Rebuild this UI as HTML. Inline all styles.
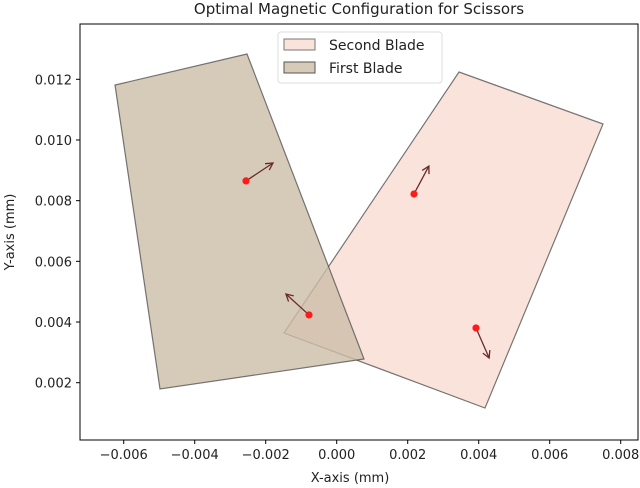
<!DOCTYPE html>
<html><head><meta charset="utf-8"><style>
body{margin:0;background:#fff;}
svg{display:block;font-family:"DejaVu Sans","Liberation Sans",sans-serif;}
</style></head><body>
<svg id="c" width="640" height="488" viewBox="0 0 640 488" xmlns="http://www.w3.org/2000/svg">
<text x="359" y="14" font-size="15" text-anchor="middle" fill="#222">Optimal Magnetic Configuration for Scissors</text>
<g id="plot"></g>
<g id="axes"></g>
<rect x="80" y="24" width="558" height="416" fill="none" stroke="#000" stroke-width="1"/>
<text x="350" y="482" font-size="13" text-anchor="middle" fill="#222">X-axis (mm)</text>
<text transform="translate(14,232) rotate(-90)" font-size="13" text-anchor="middle" fill="#222">Y-axis (mm)</text>
<g>
<rect x="278" y="32" width="164" height="51" rx="3" fill="#fff" fill-opacity="0.85" stroke="#ddd"/>
<rect x="284" y="39" width="31" height="11" fill="#fae3da" stroke="#777"/>
<text x="329" y="50" font-size="14" fill="#222">Second Blade</text>
<rect x="284" y="62" width="31" height="11" fill="#d6cab9" stroke="#555"/>
<text x="329" y="73" font-size="14" fill="#222">First Blade</text>
</g>
</svg>
<script>
const xTicks=[-0.006,-0.004,-0.002,0.000,0.002,0.004,0.006,0.008];
const xTickLabels=["\u22120.006","\u22120.004","\u22120.002","0.000","0.002","0.004","0.006","0.008"];
const yTicks=[0.002,0.004,0.006,0.008,0.010,0.012];
const yTickLabels=["0.002","0.004","0.006","0.008","0.010","0.012"];
const secondBladeX=[0.003445,0.007501,0.004177,-0.001485];
const secondBladeY=[0.012241,0.010528,0.001166,0.003638];
const firstBladeX=[-0.006245,-0.002527,0.000769,-0.004977];
const firstBladeY=[0.011812,0.012834,0.002781,0.001792];
const magnetX=[-0.002555,-0.000780,0.002177,0.003924];
const magnetY=[0.008651,0.004234,0.008220,0.003804];
const arrowDX=[0.00076,-0.00065,0.00042,0.00037];
const arrowDY=[0.00059,0.00069,0.00092,-0.00099];

const NS="http://www.w3.org/2000/svg";
function sx(v){return 336.7+v*35500;}
function sy(v){return 382.7-(v-0.002)*30340;}
function mk(tag,attrs,parent){const e=document.createElementNS(NS,tag);for(const k in attrs)e.setAttribute(k,attrs[k]);parent.appendChild(e);return e;}
const plot=document.getElementById('plot');
const axes=document.getElementById('axes');

function poly(xs,ys,fill,op,name){
  const pts=xs.map((x,i)=>sx(x).toFixed(1)+","+sy(ys[i]).toFixed(1)).join(" ");
  const p=mk('polygon',{points:pts,fill:fill,'fill-opacity':op,stroke:'#555','stroke-opacity':0.8,'stroke-width':1.2},plot);
  
  
}
poly(secondBladeX,secondBladeY,'#fae3da',1,'second-blade');
poly(firstBladeX,firstBladeY,'rgb(204,189,168)',0.8,'first-blade');

for(let i=0;i<magnetX.length;i++){
  const x0=sx(magnetX[i]),y0=sy(magnetY[i]);
  const x1=sx(magnetX[i]+arrowDX[i]),y1=sy(magnetY[i]+arrowDY[i]);
  const g=mk('g',{},plot);
  
  
  mk('line',{x1:x0,y1:y0,x2:x1,y2:y1,stroke:'#6b2a2a','stroke-width':1.3},g);
  const a=Math.atan2(y1-y0,x1-x0),L=8,w=0.5;
  mk('polyline',{points:(x1-L*Math.cos(a-w))+","+(y1-L*Math.sin(a-w))+" "+x1+","+y1+" "+(x1-L*Math.cos(a+w))+","+(y1-L*Math.sin(a+w)),fill:'none',stroke:'#6b2a2a','stroke-width':1.3},g);
  mk('circle',{cx:x0,cy:y0,r:3.6,fill:'#ff1a1a'},g);
}

xTicks.forEach((v,i)=>{
  const x=sx(v);
  const t=mk('line',{x1:x,y1:440,x2:x,y2:444,stroke:'#000'},axes);
  
  
  const l=mk('text',{x:x,y:459,'font-size':13,'text-anchor':'middle',fill:'#222'},axes);
  l.textContent=xTickLabels[i];
  
  
});
yTicks.forEach((v,i)=>{
  const y=sy(v);
  const t=mk('line',{x1:76,y1:y,x2:80,y2:y,stroke:'#000'},axes);
  
  
  const l=mk('text',{x:72,y:y+5,'font-size':13,'text-anchor':'end',fill:'#222'},axes);
  l.textContent=yTickLabels[i];
  
  
});
</script>
</body></html>
